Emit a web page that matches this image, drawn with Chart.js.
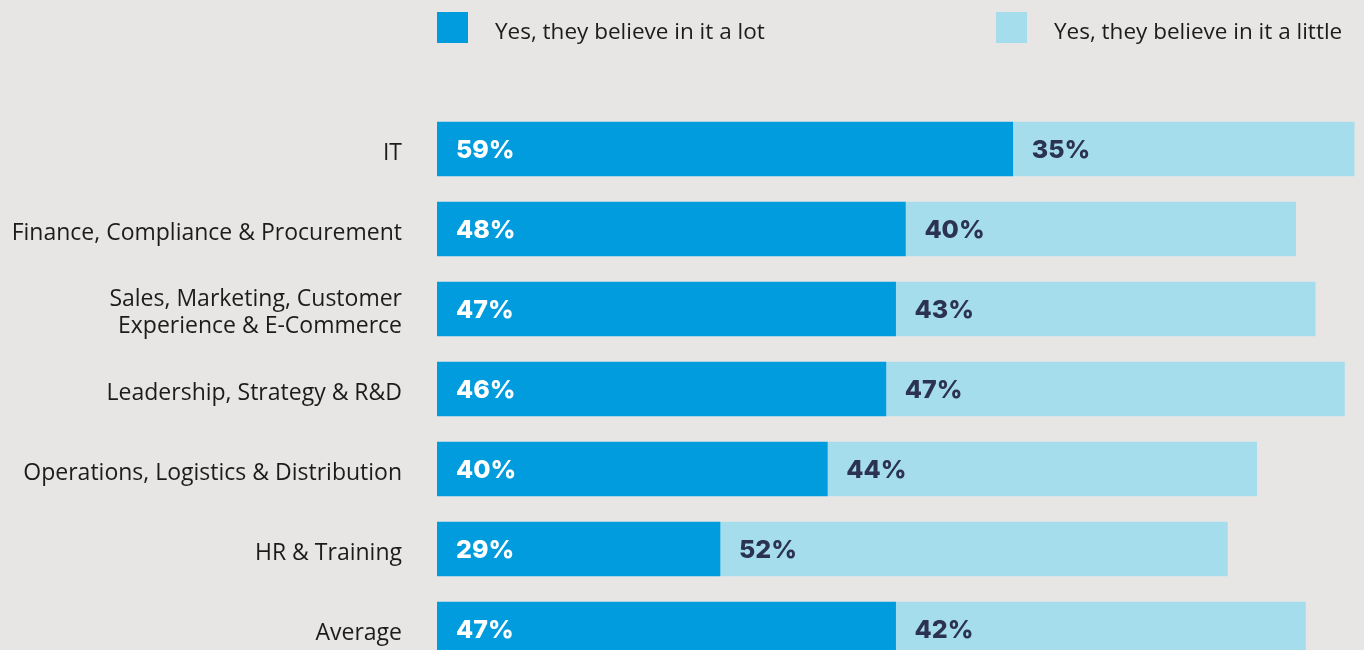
<!DOCTYPE html>
<html>
<head>
<meta charset="utf-8">
<script src="https://cdn.jsdelivr.net/npm/chart.js@4/dist/chart.umd.min.js"></script>
<style>
  html, body { margin: 0; padding: 0; background: #e8e6e4; overflow: hidden; }
  #wrap { position: relative; width: 1364px; height: 716px; }
  .legend-box { position: absolute; top: 12px; width: 31px; height: 31px; }
  .legend-text { position: absolute; top: 16px; font-family: "Open Sans", sans-serif;
                 font-size: 22.5px; line-height: 30px; color: #1c1c1c; white-space: nowrap; }
</style>
</head>
<body>
<div id="wrap">
  <div class="legend-box" style="left:437px;background:#009cde"></div>
  <div class="legend-text" id="lg0" style="left:495px"></div>
  <div class="legend-box" style="left:996px;background:#a6ddec"></div>
  <div class="legend-text" id="lg1" style="left:1054px"></div>
  <canvas id="chart" width="1364" height="716"></canvas>
</div>
<script>
// departments, top to bottom
const categories = [
    'IT',
    'Finance, Compliance & Procurement',
    ['Sales, Marketing, Customer', 'Experience & E-Commerce'],
    'Leadership, Strategy & R&D',
    'Operations, Logistics & Distribution',
    'HR & Training',
    'Average'
];
const seriesNames = ['Yes, they believe in it a lot', 'Yes, they believe in it a little'];
const believeALot = [59, 48, 47, 46, 40, 29, 47];
const believeALittle = [35, 40, 43, 47, 44, 52, 42];

const colors = ['#009cde', '#a6ddec'];
const labelColors = ['#ffffff', '#2b3350'];

document.getElementById('lg0').textContent = seriesNames[0];
document.getElementById('lg1').textContent = seriesNames[1];

// percentage written inside each segment, near its left edge
const segmentLabels = {
    id: 'segmentLabels',
    afterDatasetsDraw(chart) {
        const ctx = chart.ctx;
        ctx.save();
        ctx.font = '800 25px Inter, sans-serif';
        ctx.textAlign = 'left';
        ctx.textBaseline = 'middle';
        chart.data.datasets.forEach((ds, i) => {
            chart.getDatasetMeta(i).data.forEach((bar, j) => {
                const left = Math.min(bar.x, bar.base);
                ctx.fillStyle = labelColors[i];
                ctx.fillText(ds.data[j] + '%', left + 19, bar.y + 1);
            });
        });
        ctx.restore();
    }
};

new Chart(document.getElementById('chart'), {
    type: 'bar',
    data: {
        labels: categories,
        datasets: [
            { label: seriesNames[0], data: believeALot, backgroundColor: colors[0], barThickness: 54 },
            { label: seriesNames[1], data: believeALittle, backgroundColor: colors[1], barThickness: 54 }
        ]
    },
    options: {
        indexAxis: 'y',
        responsive: false,
        animation: false,
        layout: { padding: { top: 109, bottom: 47, right: 0 } },
        plugins: { legend: { display: false }, tooltip: { enabled: false } },
        scales: {
            x: { stacked: true, min: 0, max: 95, display: false },
            y: {
                stacked: true,
                grid: { display: false },
                border: { display: false },
                ticks: {
                    padding: 27,
                    labelOffset: 4,
                    color: '#1c1c1c',
                    font: { family: 'Open Sans', size: 23, lineHeight: 1.17 }
                },
                afterFit(scale) { scale.width = 437; }
            }
        }
    },
    plugins: [segmentLabels]
});
</script>
</body>
</html>
